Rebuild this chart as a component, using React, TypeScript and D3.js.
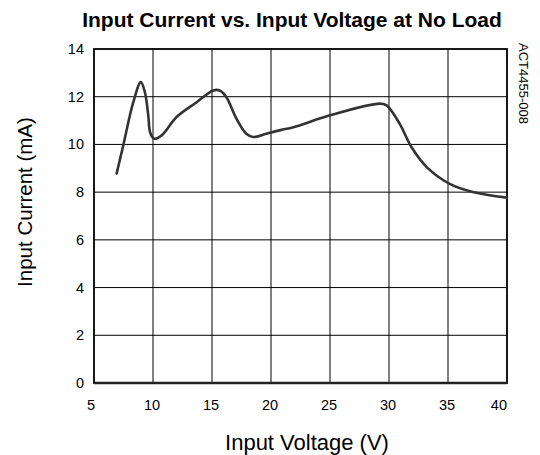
import React from "react";
import * as d3 from "d3";

const voltage = [6.92, 7.48, 8.33, 8.97, 9.31, 9.6, 9.76, 10.1, 10.73, 12.0, 13.7, 15.1, 15.66, 16.22, 17.07, 17.91, 18.5, 19.6, 20.8, 21.9, 25.0, 29.2, 29.8, 30.9, 31.9, 33.2, 35.1, 37.1, 40.0];
const current = [8.78, 9.96, 11.77, 12.61, 12.19, 11.22, 10.5, 10.24, 10.38, 11.15, 11.77, 12.26, 12.26, 11.98, 11.08, 10.45, 10.31, 10.45, 10.6, 10.72, 11.22, 11.71, 11.64, 10.87, 9.89, 9.05, 8.36, 8.01, 7.77];
const xTicks = [5, 10, 15, 20, 25, 30, 35, 40];
const yTicks = [0, 2, 4, 6, 8, 10, 12, 14];

export default function App() {
  const W = 540, H = 455;
  const L = 94, R = 507, T = 49, B = 383;
  const x = d3.scaleLinear().domain([5, 40]).range([L, R]);
  const y = d3.scaleLinear().domain([0, 14]).range([B, T]);
  const pts = voltage.map((v, i) => [v, current[i]] as [number, number]);
  const line = d3.line<[number, number]>().x(d => x(d[0])).y(d => y(d[1])).curve(d3.curveCatmullRom.alpha(0.5));
  const font = "Liberation Sans, Arial, sans-serif";
  return (
    <svg width={W} height={H} style={{ position: "absolute", left: 0, top: 0 }} fontFamily={font}>
      <rect width={W} height={H} fill="#fff" />
      <text x={292} y={27} textAnchor="middle" fontWeight="bold" fontSize={21} fill="#000">Input Current vs. Input Voltage at No Load</text>
      {xTicks.slice(1, -1).map(t => (
        <line key={"vx" + t} x1={x(t)} x2={x(t)} y1={T} y2={B} stroke="#000" strokeWidth={1} />
      ))}
      {yTicks.slice(1, -1).map(t => (
        <line key={"hy" + t} x1={L} x2={R} y1={y(t)} y2={y(t)} stroke="#000" strokeWidth={1} />
      ))}
      <rect x={L} y={T} width={R - L} height={B - T} fill="none" stroke="#000" strokeWidth={1.8} />
      <line x1={L} x2={R} y1={B} y2={B} stroke="#222" strokeWidth={2.5} />
      <path d={line(pts) || ""} fill="none" stroke="#333" strokeWidth={2.6} strokeLinejoin="round" strokeLinecap="round" />
      {yTicks.map(t => (
        <text key={"yl" + t} x={L - 10} y={y(t) + 5} textAnchor="end" fontSize={14.5} fill="#000">{t}</text>
      ))}
      {xTicks.map((t, i) => (
        <text key={"xl" + t}
          x={i === xTicks.length - 1 ? R : i === 0 ? x(t) - 3 : x(t) - 1}
          y={410}
          textAnchor={i === xTicks.length - 1 ? "end" : "middle"}
          fontSize={14.5} fill="#000">{t}</text>
      ))}
      <text x={307} y={450} textAnchor="middle" fontSize={22} fill="#000">Input Voltage (V)</text>
      <text transform={`translate(32,202) rotate(-90)`} textAnchor="middle" fontSize={20.5} fill="#000">Input Current (mA)</text>
      <text transform={`translate(519,43) rotate(90)`} textAnchor="start" fontSize={13} fill="#000">ACT4455-008</text>
    </svg>
  );
}
